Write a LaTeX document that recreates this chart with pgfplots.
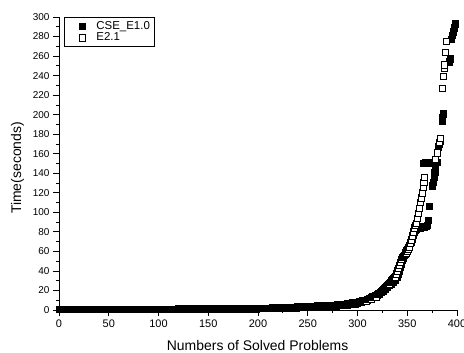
\documentclass[border=0pt]{standalone}
\usepackage{pgfplots}
\pgfplotsset{compat=1.18}
\usepackage{fontspec}
\setmainfont{Liberation Sans}
\begin{document}
\begin{tikzpicture}
\begin{axis}[
  name=ax,
  scale only axis, width=398bp, height=293bp,
  xmin=0, xmax=400, ymin=0, ymax=300,
  axis lines=left, axis line style={-, line width=0.8bp},
  xtick={0,50,...,400}, ytick={0,20,...,300},
  minor x tick num=1, minor y tick num=1,
  tick align=outside,
  major tick length=6bp, minor tick length=3bp,
  every tick/.style={black, line width=0.8bp},
  /pgf/number format/assume math mode=true,
  xticklabel style={font=\fontsize{11}{13}\selectfont},
  yticklabel style={font=\fontsize{10}{12}\selectfont},
  xlabel={Numbers of Solved Problems},
  ylabel={Time(seconds)},
  every axis x label/.style={at={([yshift=-40bp]axis description cs:0.499,0)}, anchor=base, font=\fontsize{14}{16}\selectfont},
  every axis y label/.style={at={([xshift=-41.5bp]axis description cs:0,0.485)}, anchor=center, rotate=90, font=\fontsize{14}{16}\selectfont},
  legend style={at={(axis description cs:0.0126,1)}, anchor=north west, draw=black, line width=0.8bp, font=\fontsize{11.5}{13}\selectfont, row sep=-2pt},
  legend cell align=left,
  legend image code/.code={\path[draw=none,fill=none] (0bp,0bp) -- (27bp,0bp); \draw[#1] plot coordinates {(15bp,0bp)};},
]
\addplot[only marks, mark=square*, mark size=3.2bp, mark options={fill=black, draw=black, line width=0.6bp}] coordinates {
(0,0.5)(2,0.5)(4,0.5)(6,0.5)(8,0.5)(10,0.5)(12,0.5)(14,0.5)(16,0.5)(18,0.5)
(20,0.5)(22,0.5)(24,0.5)(26,0.5)(28,0.5)(30,0.5)(32,0.5)(34,0.5)(36,0.5)(38,0.5)
(40,0.5)(42,0.5)(44,0.5)(46,0.5)(48,0.5)(50,0.5)(52,0.5)(54,0.5)(56,0.5)(58,0.5)
(60,0.5)(62,0.5)(64,0.5)(66,0.5)(68,0.5)(70,0.5)(72,0.5)(74,0.5)(76,0.5)(78,0.5)
(80,0.5)(82,0.5)(84,0.5)(86,0.5)(88,0.5)(90,0.5)(92,0.5)(94,0.5)(96,0.5)(98,0.5)
(100,1)(102,1)(104,1)(106,1)(108,1)(110,1)(112,1)(114,1)(116,1)(118,1)
(120,1)(122,1)(124,1)(126,1)(128,1)(130,1)(132,1)(134,1)(136,1)(138,1)
(140,1)(142,1)(144,1)(146,1)(148,1)(150,1)(152,1)(154,1)(156,1)(158,1)
(160,1.4)(162,1.4)(164,1.4)(166,1.4)(168,1.4)(170,1.4)(172,1.4)(174,1.4)(176,1.4)(178,1.4)
(180,1.4)(182,1.4)(184,1.4)(186,1.4)(188,1.4)(190,1.4)(192,1.4)(194,1.4)(196,1.4)(198,1.4)
(200,1.8)(202,1.8)(204,1.8)(206,1.8)(208,1.8)(210,1.8)(212,1.8)(214,1.8)(216,1.8)(218,1.8)
(220,2.4)(222,2.4)(224,2.4)(226,2.4)(228,2.4)(230,2.4)(232,2.4)(234,2.4)(236,2.4)(238,2.4)
(240,3)(242,3)(244,3)(246,3)(248,3)(250,3)(252,3)(254,3)(256,3)(258,3)
(260,4)(262,4)(264,4)(266,4)(268,4)(270,4)(272,4)(274,4)(276,4)(278,4)
(280,5.2)(282,5.2)(284,5.2)(286,5.2)(288,5.2)(290,5.2)(292,6.5)(294,6.5)(296,6.5)(298,6.5)
(300,7.5)(302,8.3)(304,9)(306,9.5)(308,10)(310,10.5)(312,11.5)(314,12.5)(316,13.5)(318,14.5)
(320,15.5)(322,16.5)(324,18)(326,19.5)(328,21)(330,23)(332,25)(334,27)(336,29)(338,31)
(340,34)(341,37)(342,40)(343,44)(344,47)(345,51)(346,53)(347,56)(348,59)(349,61)
(350,62)(351,64)(352,66)(353,68)(354,70)(355,73)(356,77)(357,80)(358,82)(359,83)
(360,83.5)(361,84)(362,84)(363,84)(364,84.5)(365,84.5)(366,85)(367,85)(368,85.5)(369,86)
(370,87)(371,92)(372,106)(375,127)(376,131)(377,136)(377.5,141)(378,146)
(366,150.5)(367,150.5)(368,150.6)(369,150.7)(370,150.8)(371,150.9)(372,151)(373,151)(374,151.1)(375,151.2)(376,151.3)(377,151.4)(378,151.5)(379,151.5)(380,151.5)
(381,167)(382,170)(383,173)(385,193)(385.5,197)(386,201)(392,254)(393,257)(394,277)(395,281)(396,285)(397,289)(398,293)
};
\addlegendentry{CSE\_E1.0}
\addplot[only marks, mark=square*, mark size=3.2bp, mark options={fill=white, draw=black, line width=0.6bp}] coordinates {
(0,0.8)(1,0.8)(2,0.8)(3,0.8)(4,0.8)(5,0.8)(6,0.8)(7,0.8)(8,0.8)(9,0.8)
(10,0.8)(11,0.8)(12,0.8)(13,0.8)(14,0.8)(15,0.8)(16,0.8)(17,0.8)(18,0.8)(19,0.8)
(20,0.8)(21,0.8)(22,0.8)(23,0.8)(24,0.8)(25,0.8)(26,0.8)(27,0.8)(28,0.8)(29,0.8)
(30,0.8)(31,0.8)(32,0.8)(33,0.8)(34,0.8)(35,0.8)(36,0.8)(37,0.8)(38,0.8)(39,0.8)
(40,0.8)(41,0.8)(42,0.8)(43,0.8)(44,0.8)(45,0.8)(46,0.8)(47,0.8)(48,0.8)(49,0.8)
(50,0.8)(51,0.8)(52,0.8)(53,0.8)(54,0.8)(55,0.8)(56,0.8)(57,0.8)(58,0.8)(59,0.8)
(60,1)(61,1)(62,1)(63,1)(64,1)(65,1)(66,1)(67,1)(68,1)(69,1)
(70,1)(71,1)(72,1)(73,1)(74,1)(75,1)(76,1)(77,1)(78,1)(79,1)
(80,1)(81,1)(82,1)(83,1)(84,1)(85,1)(86,1)(87,1)(88,1)(89,1)
(90,1)(91,1)(92,1)(93,1)(94,1)(95,1)(96,1)(97,1)(98,1)(99,1)
(100,1)(101,1)(102,1)(103,1)(104,1)(105,1)(106,1)(107,1)(108,1)(109,1)
(110,1)(111,1)(112,1)(113,1)(114,1)(115,1)(116,1)(117,1)(118,1)(119,1)
(120,1.3)(121,1.3)(122,1.3)(123,1.3)(124,1.3)(125,1.3)(126,1.3)(127,1.3)(128,1.3)(129,1.3)
(130,1.3)(131,1.3)(132,1.3)(133,1.3)(134,1.3)(135,1.3)(136,1.3)(137,1.3)(138,1.3)(139,1.3)
(140,1.3)(141,1.3)(142,1.3)(143,1.3)(144,1.3)(145,1.3)(146,1.3)(147,1.3)(148,1.3)(149,1.3)
(150,1.3)(151,1.3)(152,1.3)(153,1.3)(154,1.3)(155,1.3)(156,1.3)(157,1.3)(158,1.3)(159,1.3)
(160,1.3)(161,1.3)(162,1.3)(163,1.3)(164,1.3)(165,1.3)(166,1.3)(167,1.3)(168,1.3)(169,1.3)
(170,1.6)(171,1.6)(172,1.6)(173,1.6)(174,1.6)(175,1.6)(176,1.6)(177,1.6)(178,1.6)(179,1.6)
(180,1.6)(181,1.6)(182,1.6)(183,1.6)(184,1.6)(185,1.6)(186,1.6)(187,1.6)(188,1.6)(189,1.6)
(190,1.6)(191,1.6)(192,1.6)(193,1.6)(194,1.6)(195,1.6)(196,1.6)(197,1.6)(198,1.6)(199,1.6)
(200,2)(201,2)(202,2)(203,2)(204,2)(205,2)(206,2)(207,2)(208,2)(209,2)
(210,2)(211,2)(212,2)(213,2)(214,2)(215,2.4)(216,2.4)(217,2.4)(218,2.4)(219,2.4)
(220,2.4)(221,2.4)(222,2.4)(223,2.4)(224,2.4)(225,2.4)(226,2.4)(227,2.4)(228,2.4)(229,2.4)
(230,2.8)(231,2.8)(232,2.8)(233,2.8)(234,2.8)(235,2.8)(236,2.8)(237,2.8)(238,2.8)(239,2.8)
(240,3.2)(241,3.2)(242,3.2)(243,3.2)(244,3.2)(245,3.2)(246,3.2)(247,3.2)(248,3.2)(249,3.2)
(250,3.7)(251,3.7)(252,3.7)(253,3.7)(254,3.7)(255,3.7)(256,3.7)(257,3.7)(258,3.7)(259,3.7)
(260,4.3)(261,4.3)(262,4.3)(263,4.3)(264,4.3)(265,4.3)(266,4.3)(267,4.3)(268,4.3)(269,4.3)
(270,5)(271,5)(272,5)(273,5)(274,5)(275,5)(276,5)(277,5)(278,5)(279,5)
(280,5.8)(281,5.8)(282,5.8)(283,5.8)(284,5.8)(285,5.8)(286,5.8)(287,5.8)(288,5.8)(289,5.8)
(290,6.5)(291,6.5)(292,6.5)(293,6.5)(294,6.5)(295,7.2)(296,7.2)(297,7.2)(298,7.2)(299,7.2)
(300,8)(301,8)(302,8)(303,8)(304,8)(305,9.5)(306,9.5)(307,9.5)(308,9.5)(309,9.5)
(310,11)(311,11)(312,11)(313,11)(314,11)(315,13.5)(316,13.5)(317,13.5)(318,13.5)(319,13.5)
(320,16)(321,16.7)(322,17.4)(323,18)(324,19)(325,20)(326,21)(327,22)(328,23)(329,24)
(330,25)(331,26)(332,27)(333,28.5)(334,30)(335,31)(336,32)(337,33)(338,34)(339,37)
(340,40)(341,43)(342,46)(343,49)(344,52)(345,54)(346,55)(347,56)(348,57)(349,58.5)
(350,60)(351,62)(352,64.5)(353,69)(354,72)(355,76)(356,80)(357,84)(358,87)(359,89)
(360,94)(361,99)(362,104)(363,110)(364,115)(365,120)(366,126)(366.5,131)(367,136)
(378,154)(380,161)(382,172)(383,176)(385,227)(386,239)(387,248)(387.5,251)(388,264)(389.5,275)
};
\addlegendentry{E2.1}
\end{axis}
\pgfresetboundingbox
\path[use as bounding box] ([xshift=-59bp,yshift=-42bp]ax.south west) rectangle ([xshift=7bp,yshift=17bp]ax.north east);
\end{tikzpicture}
\end{document}
